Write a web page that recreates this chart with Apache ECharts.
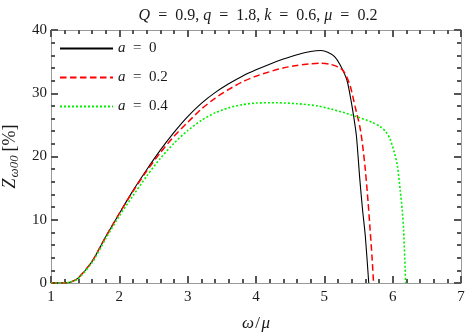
<!DOCTYPE html>
<html><head><meta charset="utf-8">
<script src="https://cdn.jsdelivr.net/npm/echarts@6/dist/echarts.min.js"></script>
<style>html,body{margin:0;padding:0;background:#fff}#c{width:466px;height:332px}</style>
</head><body><div id="c"></div>
<script>
var xTicks = [1, 2, 3, 4, 5, 6, 7];
var yTicks = [0, 10, 20, 30, 40];
var seriesNames = ['a = 0', 'a = 0.2', 'a = 0.4'];

var x0 = [1.0, 1.2, 1.3, 1.4, 1.6, 1.8, 2.0, 2.2, 2.4, 2.6, 2.8, 3.0, 3.2, 3.4, 3.6, 3.8, 4.0, 4.2, 4.4, 4.6, 4.8, 4.95, 5.05, 5.15, 5.23, 5.33, 5.38, 5.43, 5.47, 5.52, 5.56, 5.60, 5.65];
var y0 = [0, 0, 0.2, 0.8, 3.4, 7.3, 11.0, 14.6, 17.9, 21.0, 23.8, 26.3, 28.4, 30.1, 31.5, 32.7, 33.7, 34.6, 35.4, 36.1, 36.6, 36.75, 36.5, 35.8, 34.5, 32.1, 29.5, 26.3, 23.2, 16.3, 11.5, 7.4, 0];

var x1 = [1.0, 1.2, 1.3, 1.4, 1.6, 1.8, 2.0, 2.2, 2.4, 2.6, 2.8, 3.0, 3.2, 3.4, 3.6, 3.8, 4.0, 4.2, 4.4, 4.6, 4.8, 4.95, 5.08, 5.23, 5.30, 5.38, 5.45, 5.52, 5.56, 5.60, 5.64, 5.67, 5.70, 5.72];
var y1 = [0, 0, 0.2, 0.8, 3.4, 7.3, 11.0, 14.5, 17.7, 20.6, 23.2, 25.4, 27.5, 29.2, 30.6, 31.8, 32.7, 33.4, 34.0, 34.4, 34.65, 34.75, 34.6, 34.0, 33.2, 31.1, 27.9, 24.7, 21.8, 17.9, 12.8, 8.4, 3.8, 0];

var x2 = [1.0, 1.2, 1.3, 1.4, 1.6, 1.8, 2.0, 2.2, 2.4, 2.6, 2.8, 3.0, 3.2, 3.4, 3.6, 3.8, 4.0, 4.3, 4.6, 4.9, 5.1, 5.3, 5.5, 5.7, 5.82, 5.9, 5.96, 6.02, 6.07, 6.11, 6.14, 6.16, 6.19];
var y2 = [0, 0, 0.2, 0.7, 3.2, 7.0, 10.6, 13.8, 16.9, 19.7, 22.1, 24.1, 25.7, 26.9, 27.7, 28.2, 28.45, 28.5, 28.35, 28.0, 27.5, 26.9, 26.2, 25.4, 24.7, 23.9, 22.8, 20.8, 18.5, 14.7, 11.5, 8.4, 0];

function pairs(xs, ys) { return xs.map(function (x, i) { return [x, ys[i]]; }); }

var FONT = 'Liberation Serif';
var TXT = '#1a1a1a';
var EQ = '\u2002=\u2002';
function ital(sz) { return { fontFamily: FONT, fontSize: sz, fontStyle: 'italic', color: TXT }; }
function mk(base) {
  base.axisLine = { show: true, onZero: false, lineStyle: { color: '#9a9a9a', width: 1 } };
  base.axisTick = { show: true, inside: true, length: 7, interval: 0, lineStyle: { color: '#555555', width: 2 } };
  base.minorTick = { show: true, splitNumber: 5, length: 4, lineStyle: { color: '#555555', width: 2 } };
  base.splitLine = { show: false };
  base.minorSplitLine = { show: false };
  return base;
}

var chart = echarts.init(document.getElementById('c'), null, { renderer: 'canvas' });
chart.setOption({
  animation: false,
  backgroundColor: '#fff',
  title: {
    text: '{i|Q}' + EQ + '0.9, {i|q}' + EQ + '1.8, {i|k}' + EQ + '0.6, {i|μ}' + EQ + '0.2',
    left: 253, top: 3, textAlign: 'center',
    textStyle: { fontFamily: FONT, fontSize: 16, fontWeight: 'normal', color: TXT, rich: { i: ital(16) } }
  },
  legend: {
    orient: 'vertical', left: 54, top: 36, itemWidth: 53, itemHeight: 14, itemGap: 14,
    data: seriesNames,
    itemStyle: { opacity: 0 },
    formatter: function (n) { return '{i|a}' + EQ + n.split(' = ')[1]; },
    textStyle: { fontFamily: FONT, fontSize: 15, color: TXT, rich: { i: ital(15) } }
  },
  grid: { left: 51, right: 5, top: 30, bottom: 49, containLabel: false, outerBoundsMode: 'none' },
  xAxis: [
    mk({
      type: 'value', min: 1, max: 7, interval: 1, position: 'bottom',
      axisLabel: { fontFamily: FONT, fontSize: 15, color: TXT, margin: 7 },
      name: '{i|ω}\u200a/\u200a{i|μ}', nameLocation: 'middle', nameGap: 32,
      nameTextStyle: { fontFamily: FONT, fontSize: 17, color: TXT, rich: { i: ital(17) } }
    }),
    mk({ type: 'value', min: 1, max: 7, interval: 1, position: 'top', axisLabel: { show: false } })
  ],
  yAxis: [
    mk({
      type: 'value', min: 0, max: 40, interval: 10, position: 'left',
      axisLabel: { fontFamily: FONT, fontSize: 15, color: TXT, margin: 4 },
      name: '{i|Z}{s|ω00}\u2009[%]', nameLocation: 'middle', nameGap: 27, nameRotate: 90,
      nameTextStyle: { fontFamily: FONT, fontSize: 18, color: TXT,
        rich: { i: ital(18), s: { fontFamily: FONT, fontSize: 13, fontStyle: 'italic', color: TXT, padding: [8, 0, 0, 1] } } }
    }),
    mk({ type: 'value', min: 0, max: 40, interval: 10, position: 'right', axisLabel: { show: false } })
  ],
  series: [
    { name: seriesNames[0], type: 'line', data: pairs(x0, y0), showSymbol: false, symbol: 'none',
      smooth: 0.25, lineStyle: { color: '#000', width: 1.1 }, itemStyle: { color: '#000' } },
    { name: seriesNames[1], type: 'line', data: pairs(x1, y1), showSymbol: false, symbol: 'none',
      smooth: 0.25, lineStyle: { color: '#ff0000', width: 1.5, type: [6.5, 3.5] }, itemStyle: { color: '#ff0000' } },
    { name: seriesNames[2], type: 'line', data: pairs(x2, y2), showSymbol: false, symbol: 'none',
      smooth: 0.25, lineStyle: { color: '#00f000', width: 1.6, type: [2, 2] }, itemStyle: { color: '#00f000' } }
  ]
});
</script></body></html>
